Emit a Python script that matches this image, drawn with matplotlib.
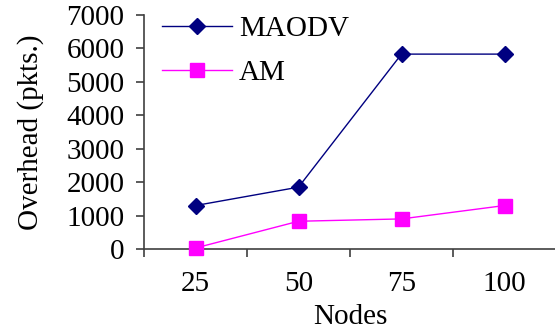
import matplotlib
matplotlib.use("Agg")
import matplotlib.pyplot as plt
import numpy as np

categories = ["25", "50", "75", "100"]
maodv = [1300, 1850, 5830, 5830]
am = [30, 830, 900, 1300]
yticks = [0, 1000, 2000, 3000, 4000, 5000, 6000, 7000]

plt.rcParams['font.family'] = ['Liberation Serif', 'DejaVu Serif']

FS = 21

fig = plt.figure(figsize=(5.55, 3.30), dpi=100)
ax = fig.add_axes([144/555, 81/330, 412/555, 234/330])

x = np.arange(1, len(categories) + 1)
ax.plot(x, maodv, color='#000080', lw=1.0, marker='D', markersize=8.5,
        label='MAODV', clip_on=False, zorder=3)
ax.plot(x, am, color='#FF00FF', lw=1.0, marker='s', markersize=9.5,
        label='AM', clip_on=False, zorder=3)

ax.set_xlim(0.5, len(categories) + 0.5)
ax.set_ylim(0, 7000)
ax.set_yticks(yticks)
ax.set_yticklabels([str(v) for v in yticks])
ax.set_xticks(x)
ax.set_xticklabels(categories)
ax.set_xticks(np.arange(0.5, len(categories) + 1, 1.0), minor=True)

for s in ['top', 'right']:
    ax.spines[s].set_visible(False)
for s in ['left', 'bottom']:
    ax.spines[s].set_color('#404040')
    ax.spines[s].set_linewidth(1.2)

ax.tick_params(axis='y', direction='out', length=6, width=1.2, color='#404040',
               labelsize=FS, pad=8)
ax.tick_params(axis='x', which='major', length=0, labelsize=FS, pad=16)
ax.tick_params(axis='x', which='minor', direction='out', length=6, width=1.2,
               color='#404040')

ax.set_ylabel('Overhead (pkts.)', fontsize=FS, labelpad=16)
ax.set_xlabel('Nodes', fontsize=FS, labelpad=5)

leg = ax.legend(loc='upper left', bbox_to_anchor=(150/555, 1 - 4/330),
                bbox_transform=fig.transFigure, frameon=False, fontsize=FS,
                handlelength=2.4, handletextpad=0.25, labelspacing=0.6,
                borderaxespad=0)

fig.savefig('out.png', dpi=100)
